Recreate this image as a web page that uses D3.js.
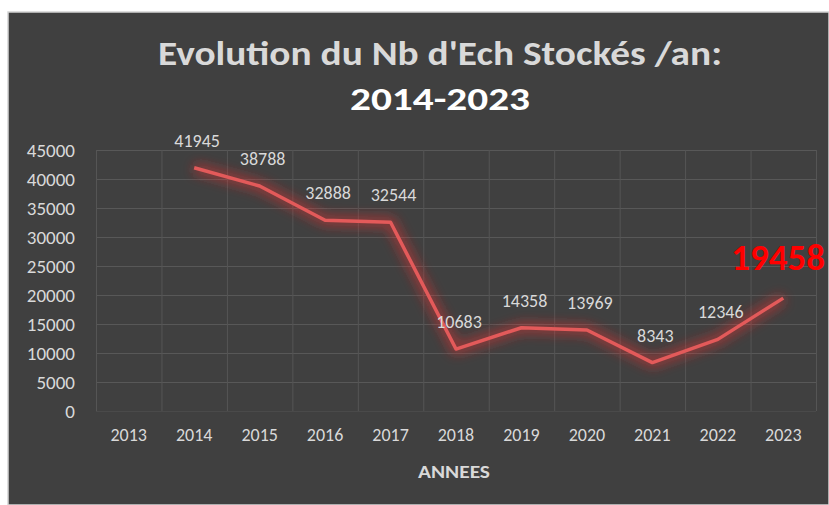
<!DOCTYPE html>
<html>
<head>
<meta charset="utf-8">
<script src="https://cdn.jsdelivr.net/npm/d3@7"></script>
<style>
  body { margin: 0; background: #fff; }
  svg { display: block; font-family: Carlito, Calibri, Lato, sans-serif; }
</style>
</head>
<body>
<script>
// categories on the x axis (2013 has no value)
const years = ['2013', '2014', '2015', '2016', '2017', '2018', '2019', '2020', '2021', '2022', '2023'];
const dataYears = ['2014', '2015', '2016', '2017', '2018', '2019', '2020', '2021', '2022', '2023'];
const stored = [41945, 38788, 32888, 32544, 10683, 14358, 13969, 8343, 12346, 19458];
const yTicks = [0, 5000, 10000, 15000, 20000, 25000, 30000, 35000, 40000, 45000];

const width = 829;
const height = 505;

const svg = d3.select('body')
  .append('svg')
  .attr('width', width)
  .attr('height', height);

// glow filter for the line
const defs = svg.append('defs');
const glow = defs.append('filter')
  .attr('id', 'glow')
  .attr('x', '-20%').attr('y', '-30%')
  .attr('width', '140%').attr('height', '160%');
glow.append('feGaussianBlur').attr('stdDeviation', 6);

// dark panel
svg.append('rect')
  .attr('x', 8).attr('y', 12)
  .attr('width', width - 8).attr('height', height - 12)
  .attr('fill', '#404040')
  .attr('stroke', '#d4d4d4')
  .attr('stroke-width', 1.5);

const x = d3.scaleBand()
  .domain(years)
  .range([96, 816]);

const y = d3.scaleLinear()
  .domain([0, 45000])
  .range([411, 150]);

// horizontal gridlines
svg.append('g')
  .selectAll('line')
  .data(yTicks)
  .enter()
  .append('line')
  .attr('x1', x.range()[0])
  .attr('x2', x.range()[1])
  .attr('y1', d => y(d) + 0.5)
  .attr('y2', d => y(d) + 0.5)
  .attr('stroke', d => d === 0 ? '#4a4a4a' : '#585858')
  .attr('stroke-width', 1);

// vertical gridlines at category boundaries
const bounds = years.map(d => x(d)).concat([x.range()[1]]);
svg.append('g')
  .selectAll('line')
  .data(bounds)
  .enter()
  .append('line')
  .attr('x1', d => d + 0.5)
  .attr('x2', d => d + 0.5)
  .attr('y1', y(45000))
  .attr('y2', y(0))
  .attr('stroke', '#555555')
  .attr('stroke-width', 1);

// y axis
const yAxis = d3.axisLeft(y).tickValues(yTicks).tickFormat(d3.format('d')).tickSize(0).tickPadding(0);
const gy = svg.append('g')
  .attr('transform', 'translate(75,0)')
  .call(yAxis);
gy.select('.domain').remove();
gy.selectAll('text')
  .attr('fill', '#d9d9d9')
  .style('font-size', '19px')
  .style('font-family', 'Carlito, Calibri, Lato, sans-serif');

// x axis
const xAxis = d3.axisBottom(x).tickSize(0).tickPadding(0);
const gx = svg.append('g')
  .attr('transform', 'translate(0,428)')
  .call(xAxis);
gx.select('.domain').remove();
gx.selectAll('text')
  .attr('fill', '#d9d9d9')
  .style('font-size', '18px')
  .style('font-family', 'Carlito, Calibri, Lato, sans-serif');

// the line
const line = d3.line()
  .x((d, i) => x(dataYears[i]) + x.bandwidth() / 2)
  .y(d => y(d));

svg.append('path')
  .datum(stored)
  .attr('d', line)
  .attr('fill', 'none')
  .attr('stroke', '#ff2a2a')
  .attr('stroke-width', 11)
  .attr('stroke-opacity', 0.45)
  .attr('stroke-linejoin', 'round')
  .attr('filter', 'url(#glow)');

svg.append('path')
  .datum(stored)
  .attr('d', line)
  .attr('fill', 'none')
  .attr('stroke', '#e35a5a')
  .attr('stroke-width', 3.5)
  .attr('stroke-linejoin', 'round');

// value labels
const last = stored.length - 1;
svg.append('g')
  .selectAll('text')
  .data(stored)
  .enter()
  .append('text')
  .attr('x', (d, i) => x(dataYears[i]) + x.bandwidth() / 2 + (i === last ? -52 : 3))
  .attr('y', (d, i) => y(d) - (i === last ? 28 : 21))
  .attr('text-anchor', (d, i) => i === last ? 'start' : 'middle')
  .attr('fill', (d, i) => i === last ? '#ff0000' : '#d9d9d9')
  .style('font-size', (d, i) => i === last ? '37px' : '18px')
  .style('font-weight', (d, i) => i === last ? 'bold' : 'normal')
  .text(d => d);

// title
svg.append('text')
  .attr('x', 440)
  .attr('y', 65)
  .attr('text-anchor', 'middle')
  .attr('fill', '#d9d9d9')
  .attr('textLength', 564)
  .attr('lengthAdjust', 'spacingAndGlyphs')
  .style('font-size', '35px')
  .style('font-weight', 'bold')
  .text("Evolution du Nb d'Ech Stockés /an:");

svg.append('text')
  .attr('x', 440)
  .attr('y', 110)
  .attr('text-anchor', 'middle')
  .attr('fill', '#ffffff')
  .attr('textLength', 180)
  .attr('lengthAdjust', 'spacingAndGlyphs')
  .style('font-size', '32px')
  .style('font-weight', 'bold')
  .text('2014-2023');

// x axis title
svg.append('text')
  .attr('x', 454)
  .attr('y', 478)
  .attr('text-anchor', 'middle')
  .attr('fill', '#d9d9d9')
  .attr('textLength', 72)
  .attr('lengthAdjust', 'spacingAndGlyphs')
  .style('font-size', '17px')
  .style('font-weight', 'bold')
  .text('ANNEES');
</script>
</body>
</html>
